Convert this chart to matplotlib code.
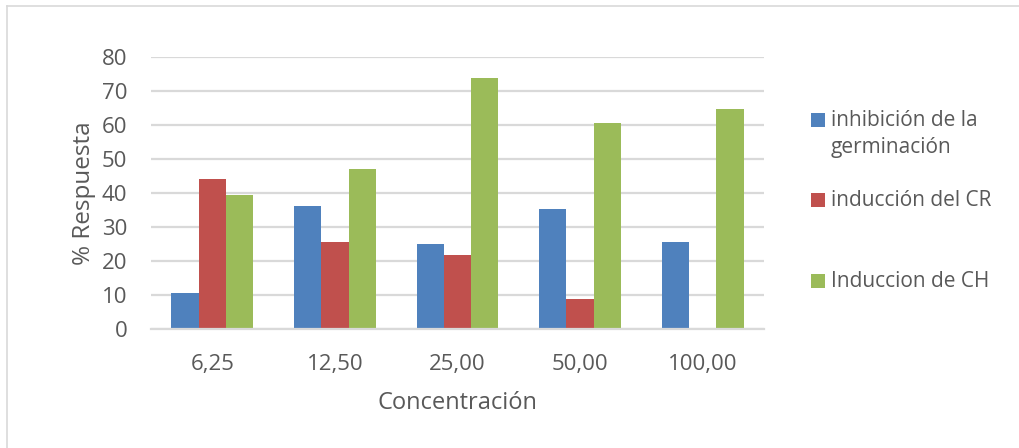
import numpy as np
import matplotlib
matplotlib.use("Agg")
import matplotlib.pyplot as plt
from matplotlib.patches import Rectangle
from matplotlib.lines import Line2D

plt.rcParams['font.family'] = ['Open Sans', 'DejaVu Sans']

categories = ["6,25", "12,50", "25,00", "50,00", "100,00"]
series_names = ["inhibición de la\ngerminación", "inducción del CR", "Induccion de CH"]
inhibicion = [10.6, 36.3, 25.1, 35.3, 25.7]
induccion_cr = [44.1, 25.6, 21.9, 9.0, 0.0]
induccion_ch = [39.5, 47.1, 73.9, 60.8, 64.9]
colors = ["#4F81BD", "#C0504D", "#9BBB59"]
yticks = [0, 10, 20, 30, 40, 50, 60, 70, 80]

W, H = 1020, 448
fig = plt.figure(figsize=(W / 100, H / 100), dpi=100)
ax = fig.add_axes([151 / W, 1 - 329.3 / H, (764 - 151) / W, (329.3 - 57.3) / H])

text_color = "#595959"
grid_color = "#D9D9D9"

x = np.arange(len(categories))
bw = 0.222
for i, (vals, c) in enumerate(zip([inhibicion, induccion_cr, induccion_ch], colors)):
    ax.bar(x + (i - 1) * bw, vals, width=bw, color=c, zorder=3, linewidth=0)

ax.set_xlim(-0.5, len(categories) - 0.5)
ax.set_ylim(0, 80)
ax.set_yticks(yticks)
ax.set_xticks(x)
ax.set_xticklabels(categories)
ax.yaxis.grid(True, color=grid_color, linewidth=1.6, zorder=0)
for s in ["top", "right", "left"]:
    ax.spines[s].set_visible(False)
ax.spines["bottom"].set_color(grid_color)
ax.spines["bottom"].set_linewidth(1.6)
ax.spines["bottom"].set_zorder(4)
ax.tick_params(axis="both", length=0, labelsize=16, colors=text_color)
ax.tick_params(axis="y", pad=17)
ax.tick_params(axis="x", pad=18)

ax.set_ylabel("% Respuesta", fontsize=17.5, color=text_color, labelpad=4)
ax.set_xlabel("Concentración", fontsize=17, color=text_color, labelpad=11)

# legend drawn in pixel coordinates on the right side
legend_y = [120, 200, 281]
for name, c, yc in zip(series_names, colors, legend_y):
    fig.add_artist(Rectangle((811 / W, 1 - (yc + 7) / H), 14 / W, 14 / H,
                             transform=fig.transFigure, color=c, linewidth=0))
    lines = name.split("\n")
    for k, line in enumerate(lines):
        fig.text(831 / W, 1 - (yc + 28 * k) / H, line, fontsize=15,
                 color=text_color, va="center", ha="left")

# outer frame (left and top edges)
fig.add_artist(Line2D([7.5 / W, 7.5 / W], [0, 1 - 6 / H], transform=fig.transFigure,
                      color="#D9D9D9", linewidth=1.2))
fig.add_artist(Line2D([7.5 / W, 1], [1 - 6 / H, 1 - 6 / H], transform=fig.transFigure,
                      color="#D9D9D9", linewidth=1.2))

fig.savefig("out.png", dpi=100, facecolor="white")
